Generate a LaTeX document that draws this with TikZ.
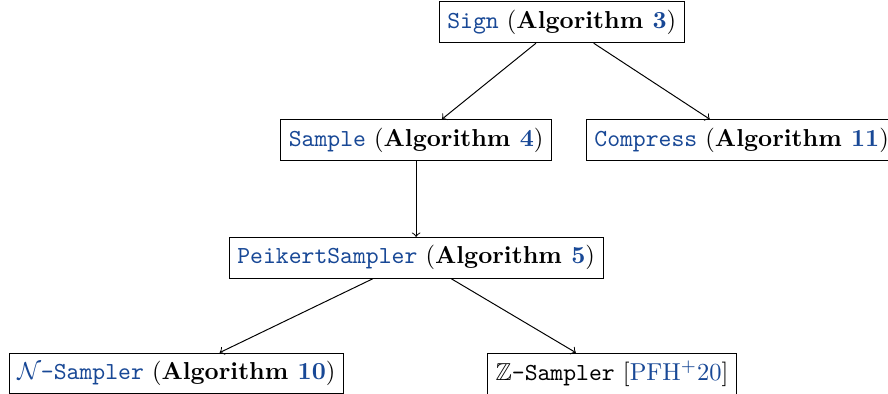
\documentclass[tikz,border=0pt]{standalone}
\usepackage{amsmath}
\usepackage{amssymb}
\usepackage{xcolor}
\usepackage{tikz}
\usetikzlibrary{positioning}
\definecolor{refblue}{RGB}{24,72,150}
\newcommand{\algname}[1]{\textcolor{refblue}{\texttt{#1}}}
\newcommand{\algnum}[1]{\textbf{Algorithm \textcolor{refblue}{#1}}}
\tikzset{
  algbox/.style={draw, rectangle, fill=white, inner sep=3.33pt},
  call/.style={->}
}

\begin{document}
\begin{tikzpicture}
  \useasboundingbox (-8.06,0.32) rectangle (4.68,-5.33);
  \node[algbox] (sign) at (0,0) {\algname{Sign} (\algnum{3})};
  \node[algbox, below=1.09cm of sign, xshift=-2.09cm] (sample) {\algname{Sample} (\algnum{4})};
  \node[algbox, below=1.09cm of sign, xshift=2.58cm] (compress) {\algname{Compress} (\algnum{11})};
  \node[algbox, below=1.09cm of sample] (peikert) {\algname{PeikertSampler} (\algnum{5})};
  \node[algbox, below=1.06cm of peikert, xshift=-3.44cm] (nsampler) {\textcolor{refblue}{$\mathcal{N}$\texttt{-Sampler}} (\algnum{10})};
  \node[algbox, below=1.06cm of peikert, xshift=2.81cm] (zsampler) {$\mathbb{Z}$\texttt{-Sampler} [\textcolor{refblue}{PFH$^+$20}]};
  \draw[call] (sign) -- (sample);
  \draw[call] (sign) -- (compress);
  \draw[call] (sample) -- (peikert);
  \draw[call] (peikert) -- (nsampler);
  \draw[call] (peikert) -- (zsampler);
\end{tikzpicture}
\end{document}
